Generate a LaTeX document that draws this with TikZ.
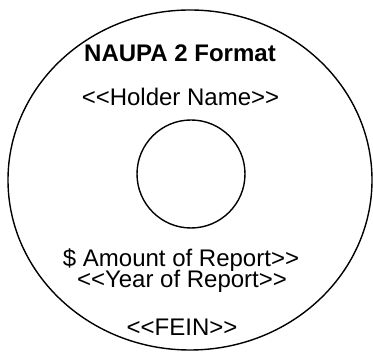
\documentclass[tikz,border=0pt]{standalone}
\usepackage{fontspec}
\setmainfont{Liberation Sans}
\usetikzlibrary{positioning}

\tikzset{
	label text/.style={anchor=base, inner sep=0pt, text height=17pt, text depth=0pt, font=\fontsize{24}{28}\selectfont},
	title text/.style={label text, font=\fontsize{24}{28}\selectfont\bfseries},
	disc line/.style={draw, line width=1.4pt},
}

\begin{document}
\begin{tikzpicture}[x=1pt,y=-1pt]
		\useasboundingbox (0,0) rectangle (373,352);
		% the disc and its hole
		\draw [disc line] (190,180) ellipse [x radius=182, y radius=170];
		\coordinate (hub) at (191,174);
		\draw [disc line] (hub) circle [radius=54];
		
		\node [title text] (title) at (180,62) {NAUPA 2 Format};
		\node [label text] (holder) at (180.5,106) {<{}<Holder Name>{}>};
		\node [label text] (amount) at (181,267) {\$ Amount of Report>{}>};
		\node [label text] (year) at (182,288) {<{}<Year of Report>{}>};
		\node [label text] (fein) at (182,336) {<{}<FEIN>{}>};
\end{tikzpicture}
\end{document}
